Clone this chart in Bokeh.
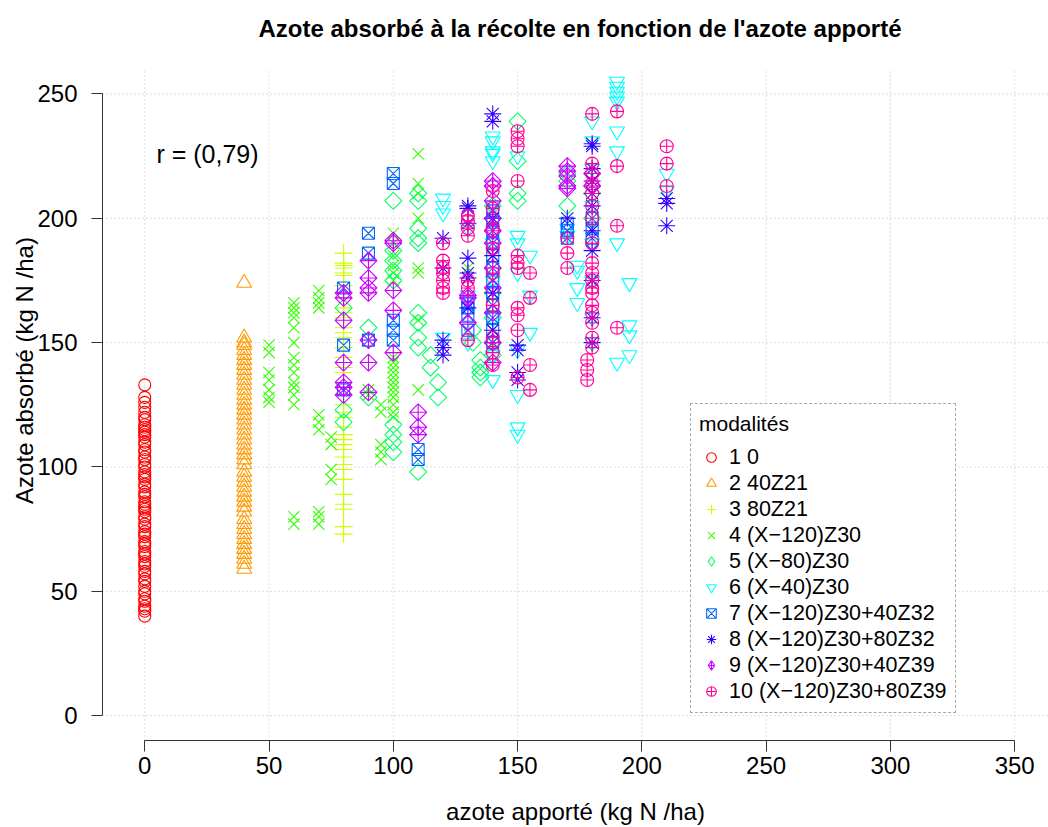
import math
from bokeh.plotting import figure
from bokeh.models import Range1d, FixedTicker, Legend, LegendItem, Label
from bokeh.embed import file_html
from bokeh.resources import INLINE

# ---------------- data (azote apporté -> azote absorbé) ----------------
labels = ["1 0", "2 40Z21", "3 80Z21", "4 (X\u2212120)Z30", "5 (X\u221280)Z30",
          "6 (X\u221240)Z30", "7 (X\u2212120)Z30+40Z32", "8 (X\u2212120)Z30+80Z32",
          "9 (X\u2212120)Z30+40Z39", "10 (X\u2212120)Z30+80Z39"]
colors = ["#FF0000", "#FF9900", "#CCFF00", "#33FF00", "#00FF66",
          "#00FFFF", "#0066FF", "#3300FF", "#CC00FF", "#FF0099"]

g1 = {0: [133, 128, 126, 124, 122, 120, 119, 117, 116, 115, 114, 113, 112, 110, 109, 107,
          106, 104, 103, 101, 100, 98, 97, 96, 95, 93, 92, 90, 89, 88, 86, 85, 84, 83, 82,
          80, 79, 77, 76, 74, 73, 72, 70, 69, 68, 66, 65, 64, 62, 61, 60, 58, 57, 55, 54,
          52, 50, 49, 47, 46, 44, 43, 42, 40]}
g2 = {40: [174, 152, 150, 149, 147, 145, 143, 141, 139, 137, 135, 133, 131, 129, 127, 125,
           123, 121, 119, 117, 115, 113, 111, 109, 107, 105, 103, 101, 98, 96, 94, 92, 90,
           88, 86, 84, 82, 79, 77, 75, 73, 71, 69, 67, 65, 63, 61, 59]}
g3 = {80: [186, 182, 181, 180, 178, 177, 173, 170, 168, 164, 162, 160, 156, 154, 152, 148,
           144, 140, 138, 132, 129, 125, 122, 120, 116, 113, 111, 109, 107, 104, 101, 99,
           95, 89, 85, 83, 76, 73]}
g4 = {50: [149, 146, 138, 135, 131, 128, 126],
      60: [166, 164, 162, 160, 156, 150, 144, 141, 138, 134, 132, 129, 125, 80, 77],
      70: [171, 168, 166, 164, 121, 118, 115, 82, 80, 77],
      75: [112, 109, 99, 95],
      90: [131, 129],
      95: [125, 122, 109, 106, 103],
      100: [194, 190, 185, 181, 178, 175, 144, 142, 140, 138, 136, 134, 132, 130, 128, 125, 122, 120],
      110: [226, 214, 210, 200, 180, 178, 159, 131],
      130: [180],
      140: [170, 150]}
g5 = {80: [164, 123, 118],
      90: [156, 128],
      100: [207, 187, 183, 179, 175, 117, 113, 110, 106],
      110: [210, 207, 196, 192, 190, 162, 158, 152, 148, 98],
      115: [145, 140],
      118: [134, 128],
      132: [155, 150],
      135: [143, 140, 138, 136],
      140: [205, 200, 180, 170, 160, 150, 145],
      150: [239, 223, 210, 207],
      170: [218, 215, 205],
      180: [210, 200]}
g6 = {120: [208, 205, 202, 152],
      130: [196, 169, 150],
      140: [233, 231, 227, 226, 223, 205, 190, 175, 160, 145, 135],
      150: [225, 193, 190, 178, 147, 129, 116, 113],
      155: [185, 169, 154],
      170: [196, 193],
      174: [181, 179, 172, 166],
      180: [239, 231, 220, 205, 190, 175, 160, 150],
      190: [255, 253, 251, 249, 247, 235, 227, 190, 142],
      195: [174, 157, 153, 145],
      210: [218, 211]}
g7 = {80: [172, 149, 131],
      90: [194, 186, 151],
      100: [218, 214, 159, 155, 151],
      110: [107, 103],
      130: [166, 164, 161, 155],
      140: [203, 199, 195, 190, 185, 180, 175, 170, 165, 160, 155, 150],
      170: [198, 195, 192],
      180: [200, 196, 192]}
g8 = {120: [192, 180, 151, 148, 145],
      130: [205, 204, 198, 184, 178, 176, 164],
      140: [242, 239, 200, 185, 170, 155],
      150: [149, 147, 138, 135],
      170: [200],
      180: [230, 229, 220, 215, 210, 205, 195, 187, 175, 160, 150],
      210: [208, 206, 197]}
g9 = {80: [170, 168, 159, 142, 134, 132, 129],
      90: [183, 176, 172, 170, 151, 142, 130],
      100: [191, 190, 171, 163, 146],
      110: [122, 116, 113],
      130: [169, 168, 158],
      140: [215, 213, 207, 200, 195, 190, 180, 172, 162, 150, 142],
      170: [221, 219, 217, 213, 212],
      180: [218, 213]}
g10 = {120: [190, 183, 180, 178, 175, 172, 170],
       130: [201, 199, 196, 193, 175, 172, 151],
       140: [211, 204, 196, 188, 178, 165, 152, 146, 141],
       150: [235, 232, 229, 215, 185, 182, 180, 164, 161, 155, 136],
       155: [178, 168, 141, 131],
       170: [192, 186, 180],
       178: [143, 139, 135],
       180: [242, 222, 218, 214, 210, 205, 200, 190, 182, 178, 175, 172, 170, 165, 162, 158, 152, 148],
       190: [243, 221, 197, 156],
       210: [229, 222, 213]}
groups = [g1, g2, g3, g4, g5, g6, g7, g8, g9, g10]

x_ticks = [0, 50, 100, 150, 200, 250, 300, 350]
y_ticks = [0, 50, 100, 150, 200, 250]

title_text = "Azote absorbé à la récolte en fonction de l'azote apporté"
r_text = "r\u00a0=\u00a0(0,79)"

# ---------------- layout / style ----------------
X0, X1 = -17, 363.6          # plotting region (R adds 4 % around the data)
Y0, Y1 = -10, 260
Y_TOP = 287.6                # canvas top expressed in y units (room for the title)

markers = ["circle", "triangle", "cross", "x", "square", "inverted_triangle",
           "square_x", "asterisk", "square_x", "circle_cross"]
legend_markers = ["circle", "triangle", "cross", "x", "diamond", "inverted_triangle",
                  "square_x", "asterisk", "diamond_cross", "circle_cross"]
angles = [0, 0, 0, 0, math.pi / 4, 0, 0, 0, math.pi / 4, 0]
sizes = [12, 15, 18, 16, 12, 15, 12, 17, 12, 13]
FONT = "Liberation Sans"
GRID = "#BEBEBE"

p = figure(width=1048, height=827, output_backend="svg", toolbar_location=None,
           x_range=Range1d(X0, X1), y_range=Range1d(Y0, Y_TOP),
           min_border_left=102, min_border_right=0, min_border_top=0, min_border_bottom=87)
p.outline_line_color = None
p.background_fill_color = "white"
p.xgrid.visible = False
p.ygrid.visible = False

for ax, ticks in ((p.xaxis[0], x_ticks), (p.yaxis[0], y_ticks)):
    ax.ticker = FixedTicker(ticks=ticks)
    ax.bounds = (ticks[0], ticks[-1])
    ax.axis_line_color = "#333333"
    ax.major_tick_line_color = "#333333"
    ax.major_tick_out = 11
    ax.major_tick_in = 0
    ax.minor_tick_line_color = None
    ax.major_label_text_font = FONT
    ax.major_label_text_font_size = "24px"
    ax.major_label_text_color = "black"
    ax.axis_label_text_font = FONT
    ax.axis_label_text_font_size = "24px"
    ax.axis_label_text_font_style = "normal"
    ax.axis_label_text_color = "black"

p.xaxis.axis_label = "azote apporté (kg N /ha)"
p.yaxis.axis_label = "Azote absorbé (kg N /ha)"
p.xaxis.major_label_standoff = 5
p.yaxis.major_label_standoff = 14
p.xaxis.axis_label_standoff = 21
p.yaxis.axis_label_standoff = -4
p.yaxis.major_label_orientation = "horizontal"

# dotted grid (like R's grid()), limited to the plotting region
p.segment(x0=x_ticks, y0=[Y0] * len(x_ticks), x1=x_ticks, y1=[Y1] * len(x_ticks),
          line_color=GRID, line_dash="1 3", line_width=1)
p.segment(x0=[X0] * len(y_ticks), y0=y_ticks, x1=[X1] * len(y_ticks), y1=y_ticks,
          line_color=GRID, line_dash="1 3", line_width=1)

items = []
for i, g in enumerate(groups):
    xs, ys = [], []
    for dose, vals in g.items():
        for v in vals:
            xs.append(dose)
            ys.append(v)
    r = p.scatter(xs, ys, marker=markers[i], size=sizes[i], angle=angles[i],
                  line_color=colors[i], fill_color=None, line_width=1.1)
    if angles[i] != 0:
        # same points, hidden: only used to show the diamond shape in the key
        r = p.scatter(xs, ys, marker=legend_markers[i], size=sizes[i],
                      line_color=colors[i], fill_color=None, line_width=1.1, visible=False)
    items.append(LegendItem(label=labels[i], renderers=[r]))

leg = Legend(items=items, location=(588, 27), title="modalités")
leg.title_text_font = FONT
leg.title_text_font_size = "21px"
leg.title_text_font_style = "normal"
leg.title_text_color = "black"
leg.title_standoff = 8
leg.label_text_font = FONT
leg.label_text_font_size = "21.5px"
leg.label_text_color = "black"
leg.glyph_width = 24
leg.glyph_height = 26
leg.label_height = 26
leg.spacing = 0
leg.label_standoff = 6
leg.padding = 8
leg.margin = 0
leg.label_width = 217
leg.inactive_fill_alpha = 0
leg.border_line_color = "#555555"
leg.border_line_dash = "1 3"
leg.border_line_width = 1
leg.background_fill_color = "white"
leg.background_fill_alpha = 1
p.add_layout(leg, "center")

p.add_layout(Label(x=(X0 + X1) / 2 + 1.8, y=276.3, text=title_text,
                   text_font=FONT, text_font_size="24px", text_font_style="bold",
                   text_color="black", text_align="center", text_baseline="alphabetic"))

p.add_layout(Label(x=4.7, y=226, text=r_text, text_font=FONT, text_color="black",
                   text_font_size="25px", text_baseline="middle", text_align="left"))

open("out.html", "w").write(file_html(p, INLINE))
